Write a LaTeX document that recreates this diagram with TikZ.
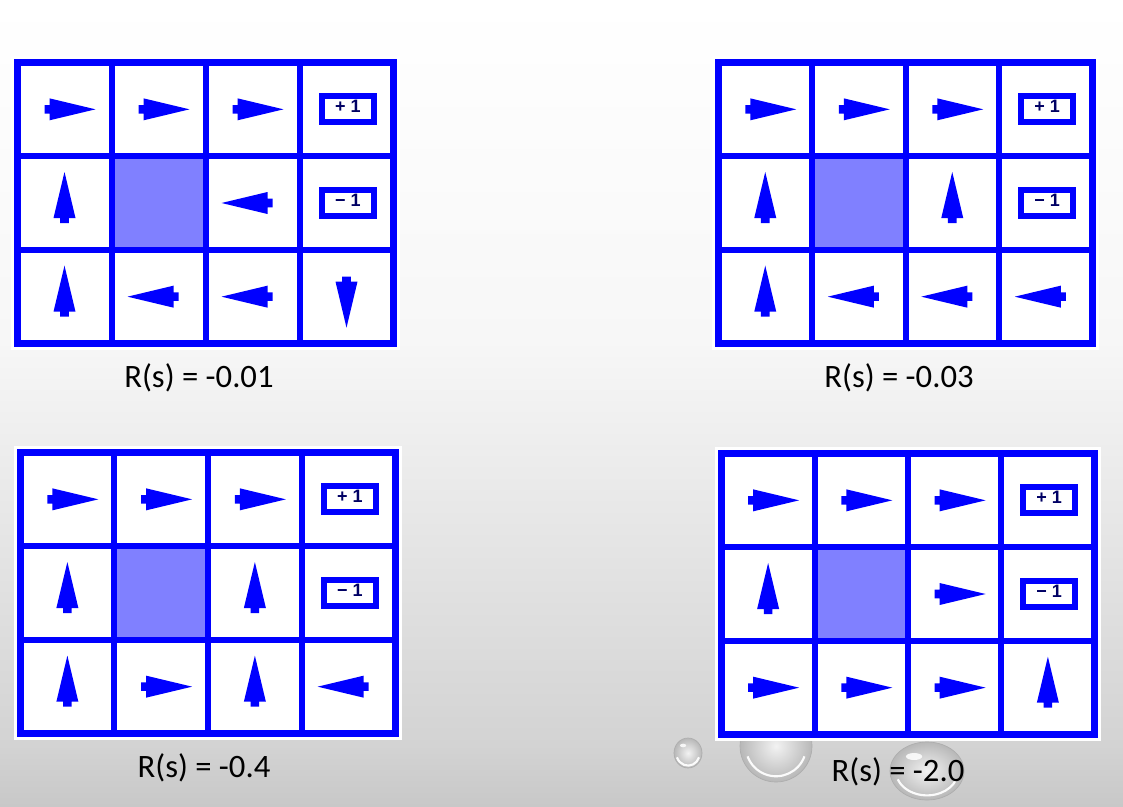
\documentclass[tikz,border=0pt]{standalone}
\usepackage{fontspec}
\setmainfont{Carlito}
\newfontfamily\boxfont{Liberation Sans}
\definecolor{gblue}{RGB}{0,0,255}
\definecolor{gcell}{RGB}{128,128,255}
\definecolor{boxtext}{RGB}{0,0,100}
\definecolor{bgc0}{RGB}{200,200,200}
\definecolor{bgc1}{RGB}{211,211,211}
\definecolor{bgc2}{RGB}{237,237,237}
\definecolor{bgc3}{RGB}{247,247,247}
\definecolor{bgc4}{RGB}{255,255,255}
\pgfdeclareverticalshading{bgsh}{100bp}{color(0bp)=(bgc0); color(25bp)=(bgc0); color(28.8bp)=(bgc1); color(47.1bp)=(bgc2); color(53.9bp)=(bgc3); color(75bp)=(bgc4); color(100bp)=(bgc4)}

\newcommand\policygrid[5]{%
  \fill[white] ({#2-3},{#3-3}) rectangle ({#2+#4+3},{#3+#5+3});
  \pgfmathsetmacro\gcw{(#4-7)/4}%
  \pgfmathsetmacro\gch{(#5-7)/3}%
  \foreach \ro in {1,2,3}{\foreach \co in {1,2,3,4}{%
    \coordinate (#1-\ro-\co) at ({#2+3.5+(\co-0.5)*\gcw},{#3+3.5+(\ro-0.5)*\gch});}}%
  \fill[gcell] ({#2+3.5+\gcw+3},{#3+3.5+\gch+3}) rectangle ({#2+3.5+2*\gcw-3},{#3+3.5+2*\gch-3});
  \foreach \k in {1,2,3}{\draw[gridinner] ({#2+3.5+\k*\gcw},{#3+3.5}) -- ({#2+3.5+\k*\gcw},{#3+#5-3.5});}
  \foreach \k in {1,2}{\draw[gridinner] ({#2+3.5},{#3+3.5+\k*\gch}) -- ({#2+#4-3.5},{#3+3.5+\k*\gch});}
  \draw[gridouter] ({#2+3.5},{#3+3.5}) rectangle ({#2+#4-3.5},{#3+#5-3.5});
  \node[termbox] (#1-plus) at ([xshift=1pt]#1-1-4) {+ 1};
  \node[termbox] (#1-minus) at ([xshift=1pt]#1-2-4) {− 1};
}
\newcommand\aR[1]{\path (#1) pic {parrow};}
\newcommand\aU[1]{\path (#1) pic[rotate=90] {parrow};}
\newcommand\aL[1]{\path (#1) pic[rotate=180] {parrow};}
\newcommand\aD[1]{\path (#1) pic[rotate=-90] {parrow};}
\newcommand\waterdrop[4]{% cx cy rx ry
  \shade[inner color=black!5, outer color=black!28] (#1,#2) ellipse [x radius=#3, y radius=#4];
  \draw[black!32, line width=0.5pt] (#1,#2) ellipse [x radius=#3, y radius=#4];
  \draw[white, line width=1.6pt, opacity=0.95] ({#1+0.84*#3*cos(20)},{#2+0.84*#4*sin(20)}) arc [start angle=20, end angle=160, x radius={0.84*#3}, y radius={0.84*#4}];
  \fill[white, opacity=0.85] ({#1-0.35*#3},{#2-0.5*#4}) ellipse [x radius={0.22*#3}, y radius={0.12*#4}];
}

\begin{document}
\begin{tikzpicture}[x=0.75pt,y=-0.75pt,
  gridouter/.style={draw=gblue,line width=5.25pt},
  gridinner/.style={draw=gblue,line width=4.5pt},
  termbox/.style={draw=gblue,line width=4.5pt,fill=white,minimum width=39pt,minimum height=19.5pt,inner sep=0pt,font=\boxfont\bfseries\fontsize{13.5}{14}\selectfont,text=boxtext,text height=9.6pt,text depth=4.5pt},
  rlabel/.style={font=\fontsize{24.5}{29}\selectfont,anchor=base,inner sep=0pt,text=black},
  pics/parrow/.style={code={\fill[gblue] (-20,-4.3) -- (-15,-4.3) -- (-15,-11) -- (31,0) -- (-15,11) -- (-15,4.3) -- (-20,4.3) -- cycle;}},
  ]
\useasboundingbox (0,0) rectangle (1123,806);
\shade[shading=bgsh] (0,0) rectangle (1123,806);

% water drops
\waterdrop{688}{753}{14}{15}
\waterdrop{776}{746}{36}{36}
\waterdrop{927}{771}{37}{29}

% grid 1
\policygrid{ga}{14}{59}{383}{288}
\aR{ga-1-1}\aR{ga-1-2}\aR{ga-1-3}
\aU{ga-2-1}\aL{ga-2-3}
\aU{ga-3-1}\aL{ga-3-2}\aL{ga-3-3}\aD{ga-3-4}
\node[rlabel] (laba) at (199,387) {R(s) = -0.01};

% grid 2
\policygrid{gb}{715}{59}{381}{288}
\aR{gb-1-1}\aR{gb-1-2}\aR{gb-1-3}
\aU{gb-2-1}\aU{gb-2-3}
\aU{gb-3-1}\aL{gb-3-2}\aL{gb-3-3}\aL{gb-3-4}
\node[rlabel] (labb) at (899,387) {R(s) = -0.03};

% grid 3
\policygrid{gc}{17}{449}{382}{288}
\aR{gc-1-1}\aR{gc-1-2}\aR{gc-1-3}
\aU{gc-2-1}\aU{gc-2-3}
\aU{gc-3-1}\aR{gc-3-2}\aU{gc-3-3}\aL{gc-3-4}
\node[rlabel] (labc) at (204,777) {R(s) = -0.4};

% grid 4
\policygrid{gd}{718}{450}{380}{288}
\aR{gd-1-1}\aR{gd-1-2}\aR{gd-1-3}
\aU{gd-2-1}\aR{gd-2-3}
\aR{gd-3-1}\aR{gd-3-2}\aR{gd-3-3}\aU{gd-3-4}
\node[rlabel] (labd) at (898,781) {R(s) = -2.0};
\end{tikzpicture}
\end{document}
